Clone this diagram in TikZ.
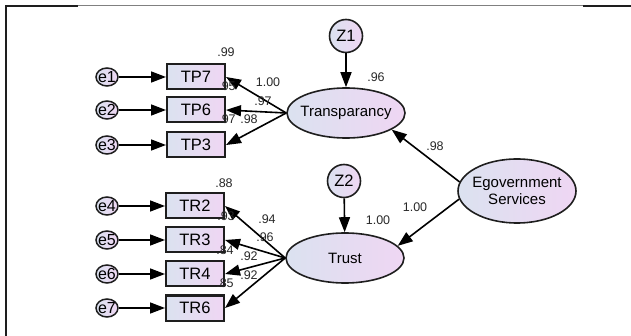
\documentclass[tikz,border=0pt]{standalone}
\usepackage{fontspec}
\setmainfont{Liberation Sans}
\usetikzlibrary{arrows.meta,shapes.geometric}
\definecolor{shadeL}{RGB}{219,226,240}
\definecolor{shadeR}{RGB}{239,214,243}
\definecolor{edge}{RGB}{30,30,30}
\definecolor{numc}{RGB}{40,40,40}
\tikzset{
  obs/.style={rectangle, draw=edge, line width=2pt, left color=shadeL, right color=shadeR,
    minimum width=58pt, minimum height=25pt, inner sep=0pt, text=black,
    font=\fontsize{16.5}{16.5}\selectfont},
  err/.style={ellipse, draw=edge, line width=1.5pt, left color=shadeL, right color=shadeR,
    minimum width=22pt, minimum height=18pt, inner xsep=-2.5pt, inner ysep=-1pt, text=black,
    font=\fontsize{16}{16}\selectfont},
  dist/.style={ellipse, draw=edge, line width=1.6pt, left color=shadeL, right color=shadeR,
    minimum width=33pt, minimum height=33pt, inner sep=0pt, text=black,
    font=\fontsize{16.5}{16.5}\selectfont},
  lat/.style={ellipse, draw=edge, line width=1.6pt, left color=shadeL, right color=shadeR,
    minimum width=118pt, minimum height=50pt, inner xsep=-4pt, inner ysep=0pt, align=center,
    text=black, font=\fontsize{15}{17.5}\selectfont},
  reg/.style={draw=black, line width=1.6pt, -{Triangle[length=15pt,width=11pt]}},
  est/.style={inner sep=0pt, text=numc, font=\fontsize{12.5}{12.5}\selectfont},
}
\begin{document}
\begin{tikzpicture}[x=1pt, y=-1pt]
\useasboundingbox (0,0) rectangle (631,336);

% frame lines
\draw[edge, line width=2pt] (6,336) -- (6,6) -- (78,6);
\draw[gray, line width=0.8pt] (78,5.5) -- (583,5.5);
\draw[edge, line width=2pt] (583,6.5) -- (631,6.5);

% latent variables
\node[lat] (T) at (346,113) {Transparancy};
\node[lat] (Tr) at (345,258) {Trust};
\node[lat, minimum height=64pt] (E) at (517,191) {Egovernment\\Services};

% disturbances
\node[dist] (Z1) at (346,36) {Z1};
\node[dist] (Z2) at (344,181) {Z2};

% observed indicators
\node[obs] (TP7) at (196,77) {TP7};
\node[obs] (TP6) at (196,110) {TP6};
\node[obs] (TP3) at (196,145) {TP3};
\node[obs] (TR2) at (195,206) {TR2};
\node[obs] (TR3) at (195,240) {TR3};
\node[obs] (TR4) at (195,274) {TR4};
\node[obs] (TR6) at (195,308) {TR6};

% error terms
\node[err] (e1) at (107,77) {e1};
\node[err] (e2) at (107,110) {e2};
\node[err] (e3) at (107,145) {e3};
\node[err] (e4) at (107,206) {e4};
\node[err] (e5) at (107,240) {e5};
\node[err] (e6) at (107,274) {e6};
\node[err] (e7) at (107,308) {e7};

% error paths
\foreach \e/\o in {e1/TP7, e2/TP6, e3/TP3, e4/TR2, e5/TR3, e6/TR4, e7/TR6}
  \draw[reg] (\e) -- (\o);

% loadings
\foreach \o in {TP7, TP6, TP3}
  \draw[reg] (T.west) -- (\o.east);
\foreach \o in {TR2, TR3, TR4, TR6}
  \draw[reg] (Tr.west) -- (\o.east);

% structural paths
\draw[reg] (Z1) -- (T);
\draw[reg] (Z2) -- (Tr);
\draw[reg] (E.171) -- (T.-20);
\draw[reg] (E.188) -- (Tr.13);

% estimates
\node[est] (r7) at (226,52) {.99};
\node[est] (l7) at (268,82) {1.00};
\node[est] (r6) at (227,86) {.95};
\node[est] (l6) at (263,101) {.97};
\node[est] (r3) at (227,119) {.97};
\node[est] (l3) at (249,119) {.98};
\node[est] (rT) at (376,77) {.96};
\node[est] (r2) at (224,183) {.88};
\node[est] (l2) at (267,219) {.94};
\node[est] (rr3) at (226,216) {.93};
\node[est] (lr3) at (265,237) {.96};
\node[est] (rr4) at (225,250) {.84};
\node[est] (lr4) at (249,256) {.92};
\node[est] (rr6) at (225,283) {.85};
\node[est] (lr6) at (249,275) {.92};
\node[est] (rTr) at (378,220) {1.00};
\node[est] (gTr) at (415,207) {1.00};
\node[est] (gT) at (435,146) {.98};
\end{tikzpicture}
\end{document}
